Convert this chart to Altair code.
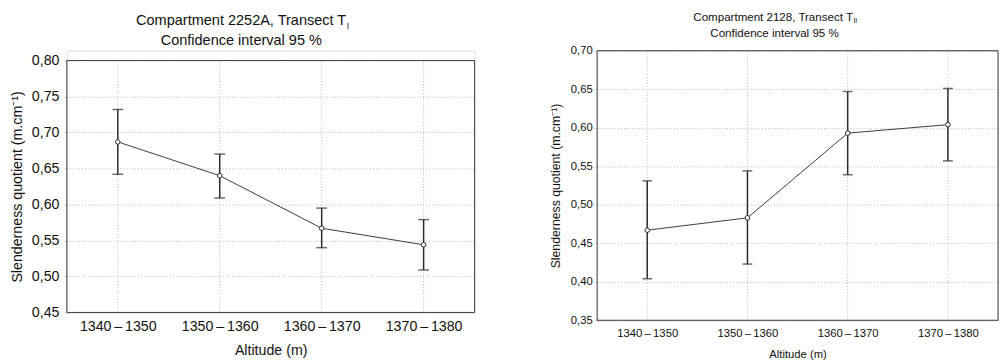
import altair as alt
import pandas as pd

categories = ["1340\u2009\u2013\u20091350", "1350\u2009\u2013\u20091360",
              "1360\u2009\u2013\u20091370", "1370\u2009\u2013\u20091380"]

left_mean = [0.687, 0.640, 0.567, 0.544]
left_low = [0.642, 0.609, 0.540, 0.509]
left_high = [0.732, 0.670, 0.595, 0.579]
left_ticks = [0.45, 0.50, 0.55, 0.60, 0.65, 0.70, 0.75, 0.80]

right_mean = [0.467, 0.483, 0.593, 0.604]
right_low = [0.404, 0.423, 0.539, 0.557]
right_high = [0.531, 0.544, 0.647, 0.651]
right_ticks = [0.35, 0.40, 0.45, 0.50, 0.55, 0.60, 0.65, 0.70]

left_title = ["Compartment 2252A, Transect T", "I", "Confidence interval 95 %"]
right_title = ["Compartment 2128, Transect T", "II", "Confidence interval 95 %"]
left_y_title = "Slenderness quotient  (m.cm\u207b\u00b9)"
right_y_title = "Slenderness quotient (m.cm\u207b\u00b9)"
x_title = "Altitude (m)"

FONT = "Liberation Sans"
INK = "#2a2a2a"
GRID = "#b5b5b5"


def panel(mean, low, high, ticks, title, ytitle, w, h, top, s):
    df = pd.DataFrame({"alt": categories, "mean": mean, "low": low, "high": high})
    base = alt.Chart(df)
    xenc = alt.X("alt:N", sort=categories, title=x_title,
                 scale=alt.Scale(type="point", padding=0.5),
                 axis=alt.Axis(labelAngle=0, labelFontSize=s["xl"], titleFontSize=s["xt"],
                               labelPadding=s["lp"], titlePadding=s["tp"],
                               titleFontWeight="normal", labelColor="#111", titleColor="#111",
                               labelFont=FONT, titleFont=FONT,
                               grid=False, ticks=False, domain=False))
    yscale = alt.Scale(domain=[ticks[0], ticks[-1]], nice=False, zero=False, range=[h, top])
    yaxis = alt.Axis(values=ticks, tickCount=40,
                     labelExpr="replace(format(datum.value, '.2f'), '.', ',')",
                     labelOverlap=False, labelFlush=False,
                     labelFontSize=s["yl"], titleFontSize=s["yt"], labelPadding=s["ylp"],
                     titlePadding=s["ytp"], titleFontWeight="normal", labelColor="#111",
                     titleColor="#111", labelFont=FONT, titleFont=FONT,
                     titleY=(h + top) / 2,
                     grid=True, gridDash=[1, 2], gridColor=GRID,
                     ticks=True, tickSize=3, tickColor="#aaaaaa", tickDash=[1, 1],
                     domain=False)
    xgrid = base.mark_rule(color=GRID, strokeDash=[1, 2], strokeWidth=1).encode(
        x=xenc, y=alt.value(top), y2=alt.value(h))
    bars = base.mark_rule(color=INK, strokeWidth=1.5).encode(
        x="alt:N", y=alt.Y("low:Q", scale=yscale, axis=yaxis, title=ytitle), y2="high:Q")
    cap_lo = base.mark_tick(color=INK, thickness=1.5, size=s["cap"]).encode(x="alt:N", y="low:Q")
    cap_hi = base.mark_tick(color=INK, thickness=1.5, size=s["cap"]).encode(x="alt:N", y="high:Q")
    line = base.mark_line(color="#3a3a3a", strokeWidth=1).encode(x="alt:N", y="mean:Q")
    pts = base.mark_point(filled=True, fill="white", stroke=INK, strokeWidth=1, size=s["pt"],
                          opacity=1).encode(x="alt:N", y="mean:Q")

    one = pd.DataFrame({"b": [0]})
    border = alt.Chart(one).mark_rect(fill="transparent", stroke="#3c3c3c",
                                      strokeWidth=1).encode(
        x=alt.value(0), x2=alt.value(w), y=alt.value(top), y2=alt.value(h))

    tdf1 = pd.DataFrame({"t": [title[0]]})
    tdf2 = pd.DataFrame({"t": [title[1]]})
    tdf3 = pd.DataFrame({"t": [title[2]]})
    t1 = alt.Chart(tdf1).mark_text(align="right", baseline="middle", font=FONT,
                                   fontSize=s["tt"], color="#111").encode(
        text="t:N", x=alt.value(s["t1x"]), y=alt.value(s["t1y"]))
    t2 = alt.Chart(tdf2).mark_text(align="left", baseline="middle", font=FONT,
                                   fontSize=s["tt"] * 0.6, color="#111").encode(
        text="t:N", x=alt.value(s["t1x"] + 0.5), y=alt.value(s["t1y"] + s["tt"] * 0.3))
    t3 = alt.Chart(tdf3).mark_text(align="center", baseline="middle", font=FONT,
                                   fontSize=s["tt"], color="#111").encode(
        text="t:N", x=alt.value(s["t3x"]), y=alt.value(s["t3y"]))
    bound = alt.Chart(one).mark_rule(opacity=0, strokeWidth=0.01).encode(
        x=alt.value(s["bx"]), y=alt.value(s["by"]), y2=alt.value(0))

    return alt.layer(xgrid, bars, cap_lo, cap_hi, line, pts, border, t1, t2, t3, bound
                     ).properties(width=w, height=h)


# left panel: view starts at page y=47, its frame starts 10px lower
left_style = dict(xl=14.5, xt=14.5, lp=7, tp=11, yl=14.5, yt=14.5, ylp=5, ytp=7, cap=11, pt=22,
                  tt=14.8, t1x=285, t1y=-30, t3x=178, t3y=-10, bx=-59, by=-39)
right_style = dict(xl=11.5, xt=11.5, lp=8, tp=9, yl=11.5, yt=12.5, ylp=2, ytp=8, cap=10, pt=22,
                   tt=11.8, t1x=261, t1y=-34, t3x=181, t3y=-18, bx=-50, by=-39)

left = panel(left_mean, left_low, left_high, left_ticks, left_title, left_y_title,
             416, 267, 10, left_style)
right = panel(right_mean, right_low, right_high, right_ticks, right_title, right_y_title,
              409, 275, 0, right_style)

chart = alt.hconcat(left, right, spacing=73).properties(padding=0).configure_view(
    stroke=None).configure(background="white")

chart.save("out.html", embed_options={"renderer": "svg", "actions": False})
